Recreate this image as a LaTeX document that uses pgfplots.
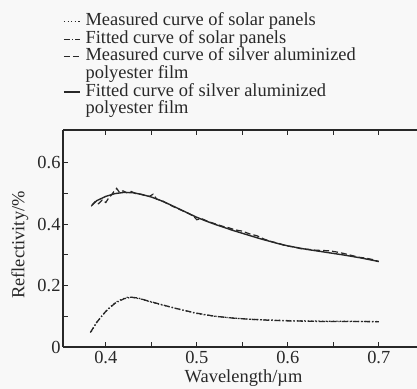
\documentclass[border=0pt]{standalone}
\usepackage{pgfplots}
\pgfplotsset{compat=1.18}
\usepackage{fontspec}
\setmainfont{Liberation Serif}
\definecolor{ink}{RGB}{40,40,40}
\definecolor{paper}{RGB}{248,248,248}
\newcommand\fs{\fontsize{18.5}{19}\selectfont}
\begin{document}
\begin{tikzpicture}
\fill[paper] (0,0) rectangle (417bp,389bp);
\begin{axis}[
  at={(63bp,42bp)}, anchor=south west,
  scale only axis, width=354bp, height=217bp,
  xmin=0.353, xmax=0.742, ymin=0, ymax=0.706,
  axis y line*=left,
  axis line style={ink, line width=1.2bp},
  every tick/.style={ink, line width=1bp},
  tick align=inside, major tick length=5bp,
  xtick={0.4,0.45,0.5,0.55,0.6,0.65,0.7},
  xticklabels={0.4,,0.5,,0.6,,0.7},
  ytick={0,0.1,0.2,0.3,0.4,0.5,0.6},
  yticklabels={0,,0.2,,0.4,,0.6},
  x tick label style={/pgf/number format/assume math mode=true, font=\fs, text=ink, yshift=-1bp},
  y tick label style={/pgf/number format/assume math mode=true, font=\fs, text=ink, xshift=1bp},
  xlabel={Wavelength/µm}, ylabel={Reflectivity/\%},
  xlabel style={font=\fs, text=ink, at={(axis description cs:0.51,-0.145)}, anchor=center},
  ylabel style={font=\fs, text=ink, at={(axis description cs:-0.122,0.47)}, anchor=center},
  clip=false,
  legend style={at={(axis description cs:0,1)}, anchor=south west, yshift=11.4bp, xshift=0bp,
    draw=none, fill=none, font=\fs, text=ink,
    row sep=0pt, inner sep=0pt, column sep=0pt,
    nodes={inner sep=1bp, text height=12bp, text depth=3.6bp}},
  legend cell align=left,
  legend image code/.code={\draw[#1] (0bp,0bp) -- (16bp,0bp); \path (20bp,0bp);},
]
% measured solar panels (dotted)
\addplot[ink, line width=1.2bp, dash pattern=on 1.2bp off 2.4bp] coordinates {
(0.384,0.050)(0.390,0.080)(0.397,0.106)(0.404,0.128)(0.411,0.146)(0.418,0.156)(0.425,0.163)(0.432,0.160)
(0.440,0.155)(0.450,0.146)(0.460,0.138)(0.470,0.131)(0.480,0.123)(0.490,0.116)(0.500,0.109)(0.510,0.104)
(0.520,0.100)(0.540,0.094)(0.560,0.090)(0.580,0.088)(0.600,0.086)(0.620,0.085)(0.640,0.084)(0.660,0.084)
(0.680,0.083)(0.700,0.083)};
\addlegendentry{Measured curve of solar panels}
% fitted solar panels (dash dot)
\addplot[ink, line width=1.3bp, dash pattern=on 6bp off 2bp on 1.2bp off 2bp] coordinates {
(0.383,0.047)(0.390,0.080)(0.400,0.116)(0.410,0.142)(0.420,0.157)(0.428,0.162)(0.436,0.159)(0.445,0.151)
(0.455,0.143)(0.465,0.135)(0.475,0.127)(0.485,0.120)(0.500,0.110)(0.520,0.100)(0.540,0.094)(0.560,0.090)
(0.580,0.087)(0.600,0.085)(0.620,0.084)(0.640,0.083)(0.660,0.083)(0.680,0.083)(0.700,0.082)};
\addlegendentry{Fitted curve of solar panels}
% measured silver aluminized polyester film (dashed, noisy)
\addplot[ink, line width=1.2bp, dash pattern=on 6bp off 3bp] coordinates {
(0.384,0.458)(0.388,0.472)(0.392,0.466)(0.396,0.478)(0.400,0.470)(0.403,0.484)(0.406,0.494)(0.409,0.506)
(0.412,0.516)(0.415,0.503)(0.419,0.508)(0.423,0.502)(0.428,0.506)(0.433,0.499)(0.438,0.497)(0.443,0.493)
(0.448,0.490)(0.452,0.497)(0.456,0.481)(0.462,0.476)(0.468,0.466)(0.474,0.457)(0.480,0.449)(0.486,0.441)
(0.492,0.433)(0.497,0.424)(0.500,0.414)(0.505,0.418)(0.512,0.409)(0.520,0.401)(0.528,0.393)(0.535,0.388)
(0.542,0.381)(0.550,0.377)(0.558,0.368)(0.566,0.362)(0.574,0.351)(0.582,0.343)(0.590,0.337)(0.598,0.329)
(0.606,0.326)(0.614,0.320)(0.622,0.318)(0.630,0.315)(0.638,0.314)(0.646,0.313)(0.654,0.309)(0.662,0.304)
(0.670,0.298)(0.678,0.292)(0.686,0.289)(0.694,0.284)(0.700,0.278)};
\addlegendentry{Measured curve of silver aluminized}
\addlegendimage{empty legend}
\addlegendentry{polyester film}
% fitted silver aluminized polyester film (solid)
\addplot[ink, line width=1.4bp] coordinates {
(0.385,0.462)(0.390,0.476)(0.400,0.490)(0.410,0.499)(0.420,0.503)(0.430,0.502)(0.440,0.496)(0.450,0.488)
(0.460,0.477)(0.470,0.464)(0.480,0.450)(0.490,0.436)(0.500,0.422)(0.510,0.410)(0.520,0.399)(0.530,0.389)
(0.540,0.379)(0.550,0.370)(0.560,0.361)(0.570,0.352)(0.580,0.344)(0.590,0.336)(0.600,0.329)(0.620,0.318)
(0.640,0.309)(0.660,0.300)(0.680,0.290)(0.700,0.278)};
\addlegendentry{Fitted curve of silver aluminized}
\addlegendimage{empty legend}
\addlegendentry{polyester film}
\end{axis}
\pgfresetboundingbox
\useasboundingbox (0,0) rectangle (417bp,389bp);
\end{tikzpicture}
\end{document}
